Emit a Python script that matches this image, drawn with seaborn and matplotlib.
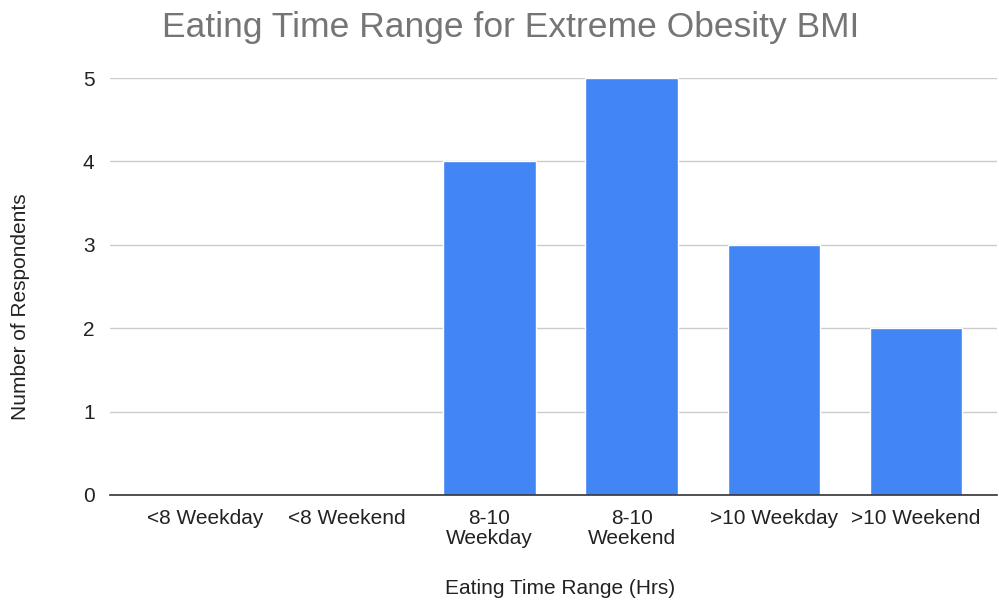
import matplotlib
matplotlib.use("Agg")
import matplotlib.pyplot as plt
import seaborn as sns
import pandas as pd

categories = ["<8 Weekday", "<8 Weekend", "8-10\nWeekday", "8-10\nWeekend", ">10 Weekday", ">10 Weekend"]
respondents = [0, 0, 4, 5, 3, 2]

sns.set_theme(style="white")
plt.rcParams["font.family"] = ["Liberation Sans", "DejaVu Sans"]

df = pd.DataFrame({"range": categories, "count": respondents})

fig = plt.figure(figsize=(9.99, 6.05), dpi=100)
ax = fig.add_axes([0.110, 0.182, 0.888, 0.689])

sns.barplot(data=df, x="range", y="count", color="#4285F4", saturation=1,
            width=0.65, ax=ax, zorder=3)

ax.set_ylim(0, 5)
ax.set_xlim(-0.67, 5.57)
ax.set_yticks(range(0, 6))
ax.grid(axis="y", color="#cccccc", linewidth=1, zorder=0)
for s in ["top", "right", "left"]:
    ax.spines[s].set_visible(False)
ax.spines["bottom"].set_color("#333333")
ax.spines["bottom"].set_linewidth(1.2)
ax.spines["bottom"].set_zorder(4)
ax.tick_params(axis="both", length=0, labelsize=15, colors="#222222")
ax.tick_params(axis="y", pad=11)
ax.tick_params(axis="x", pad=10)
for lbl in ax.get_xticklabels():
    lbl.set_linespacing(1.1)

ax.set_xlabel("Eating Time Range (Hrs)", fontsize=15, color="#222222")
ax.xaxis.set_label_coords(0.507, -0.202)
ax.set_ylabel("Number of Respondents", fontsize=15, color="#222222")
ax.yaxis.set_label_coords(-0.090, 0.451)
fig.text(0.511, 0.955, "Eating Time Range for Extreme Obesity BMI", ha="center",
         va="center", fontsize=25.5, color="#757575")

fig.savefig("out.png", dpi=100, facecolor="white")
